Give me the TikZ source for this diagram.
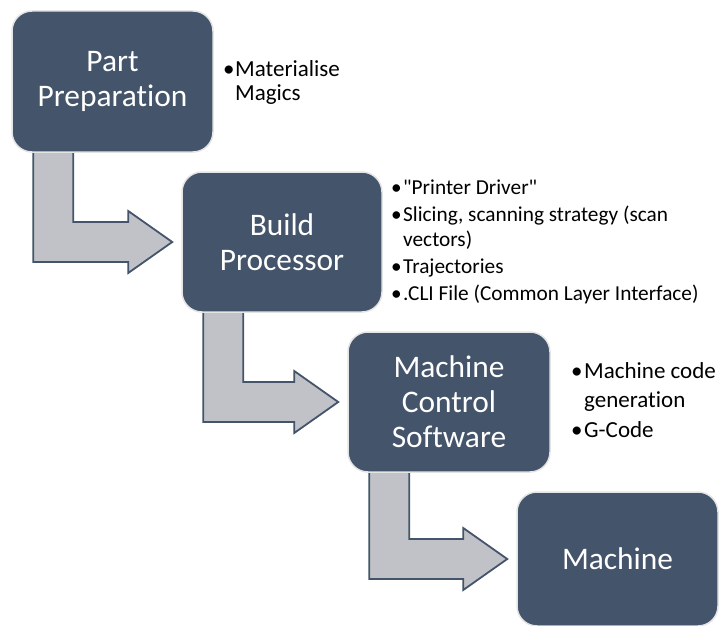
\documentclass[tikz,border=0pt]{standalone}
\usepackage{fontspec}
\setmainfont{Carlito}[Ligatures={TeXOff,NoCommon}]
\usetikzlibrary{calc}

\definecolor{slate}{HTML}{44546A}
\definecolor{arrowgrey}{HTML}{C0C2C7}
\definecolor{rimgrey}{HTML}{E4E4E4}

% bent block arrow: leaves the bottom of stage #1, turns right, points at stage #2
\newcommand\flowarrow[2]{%
  \draw[bentarrow] let \p1=(#1.south west), \p2=(#2.west) in
    (\x1+22pt,\y1+10pt) -- (\x1+22pt,\y2-20pt) -- (\x2-53pt,\y2-20pt)
    -- (\x2-53pt,\y2-31pt) -- (\x2-9pt,\y2) -- (\x2-53pt,\y2+31pt)
    -- (\x2-53pt,\y2+20pt) -- (\x1+62pt,\y2+20pt) -- (\x1+62pt,\y1+10pt) -- cycle;
}
% bullet set in a box of the given width
\newcommand\bul[1][12pt]{\makebox[#1][l]{\textbullet}}

\begin{document}
\begin{tikzpicture}[x=1pt,y=-1pt,
  stage/.style={draw=rimgrey, line width=1.5pt, fill=slate, rounded corners=20pt,
    minimum width=201pt, minimum height=141pt, inner sep=0pt, text=white,
    align=center, font=\fontsize{31.4}{35}\selectfont},
  bentarrow/.style={draw=slate, line width=1.8pt, fill=arrowgrey, line join=miter},
  notes/.style={inner sep=0pt, anchor=base west, text=black}]
\useasboundingbox (0,0) rectangle (721,626);

% stage outlines (for the arrows, drawn underneath)
\path (112.5,81.5) node[stage, draw=none, fill=none] (s1) {}
      (282,242) node[stage, draw=none, fill=none, minimum width=200pt, minimum height=140pt] (s2) {}
      (449,402) node[stage, draw=none, fill=none, minimum width=202pt, minimum height=140pt] (s3) {}
      (617.5,559) node[stage, draw=none, fill=none, minimum height=134pt] (s4) {};

\flowarrow{s1}{s2}
\flowarrow{s2}{s3}
\flowarrow{s3}{s4}

% stages
\node[stage] (p1) at (s1) {Part\\Preparation};
\node[stage, minimum width=200pt, minimum height=140pt] (p2) at (s2) {Build\\Processor};
\node[stage, minimum width=202pt, minimum height=140pt] (p3) at (s3) {Machine\\Control\\Software};
\node[stage, minimum height=134pt] (p4) at (s4) {Machine};

% notes beside each stage
\node[notes, font=\fontsize{23}{24}\selectfont] (n1) at (223,77) {\begin{tabular}[t]{@{}l@{}l@{}}
  \bul & Materialise\\ & Magics\end{tabular}};
\node[notes, font=\fontsize{21.3}{25}\selectfont] (n2) at (391,194) {\begin{tabular}[t]{@{}l@{}l@{}}
  \bul & "Printer Driver"\\[2pt]
  \bul & Slicing, scanning strategy (scan\\ & vectors)\\[2pt]
  \bul & Trajectories\\[2pt]
  \bul & .CLI File (Common Layer Interface)\end{tabular}};
\node[notes, font=\fontsize{23}{29.5}\selectfont] (n3) at (571,378) {\begin{tabular}[t]{@{}l@{}l@{}}
  \bul[13pt] & Machine code\\ & generation\\
  \bul[13pt] & G-Code\end{tabular}};
\end{tikzpicture}
\end{document}
